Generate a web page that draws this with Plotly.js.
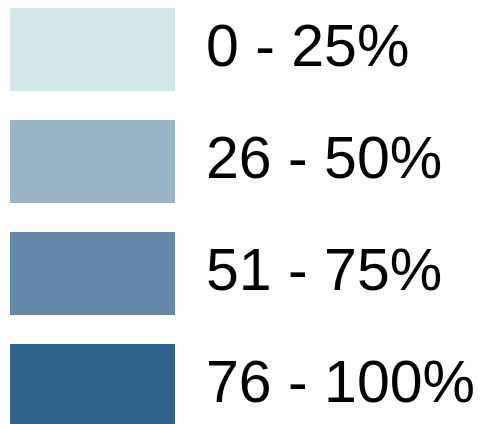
<!DOCTYPE html>
<html>
<head>
<meta charset="utf-8">
<script src="https://cdn.plot.ly/plotly-3.0.1.min.js"></script>
<style>html,body{margin:0;padding:0;background:#fff;}#chart{width:491px;height:424px;}</style>
</head>
<body>
<div id="chart"></div>
<script>
const categories = ["0 - 25%", "26 - 50%", "51 - 75%", "76 - 100%"];
const swatchValues = [1, 1, 1, 1];
const colors = ["#d3e6ea", "#98b4c7", "#6289a9", "#2e648b"];
const labelX = [1.188, 1.188, 1.188, 1.188];

const pos = categories.map((c, i) => i);

const bars = {
  type: "bar",
  orientation: "h",
  x: swatchValues,
  y: pos,
  base: 0,
  width: 0.741,
  marker: { color: colors, line: { width: 0 } },
  hoverinfo: "skip",
  showlegend: false
};
const labels = {
  type: "scatter",
  mode: "text",
  x: labelX,
  y: pos,
  yaxis: "y2",
  text: categories,
  textposition: "middle right",
  textfont: { family: "Liberation Sans, Arial, sans-serif", size: 59, color: "#000000" },
  hoverinfo: "skip",
  showlegend: false
};
const layout = {
  width: 491,
  height: 424,
  margin: { l: 0, r: 0, t: 0, b: 0 },
  paper_bgcolor: "#ffffff",
  plot_bgcolor: "#ffffff",
  xaxis: { range: [-10 / 165, 481 / 165], visible: false, fixedrange: true },
  yaxis: { range: [3.344, -0.442], visible: false, fixedrange: true },
  yaxis2: { range: [3.326, -0.460], visible: false, fixedrange: true, overlaying: "y" },
  bargap: 0
};
Plotly.newPlot("chart", [bars, labels], layout, { displayModeBar: false, staticPlot: true });
</script>
</body>
</html>
